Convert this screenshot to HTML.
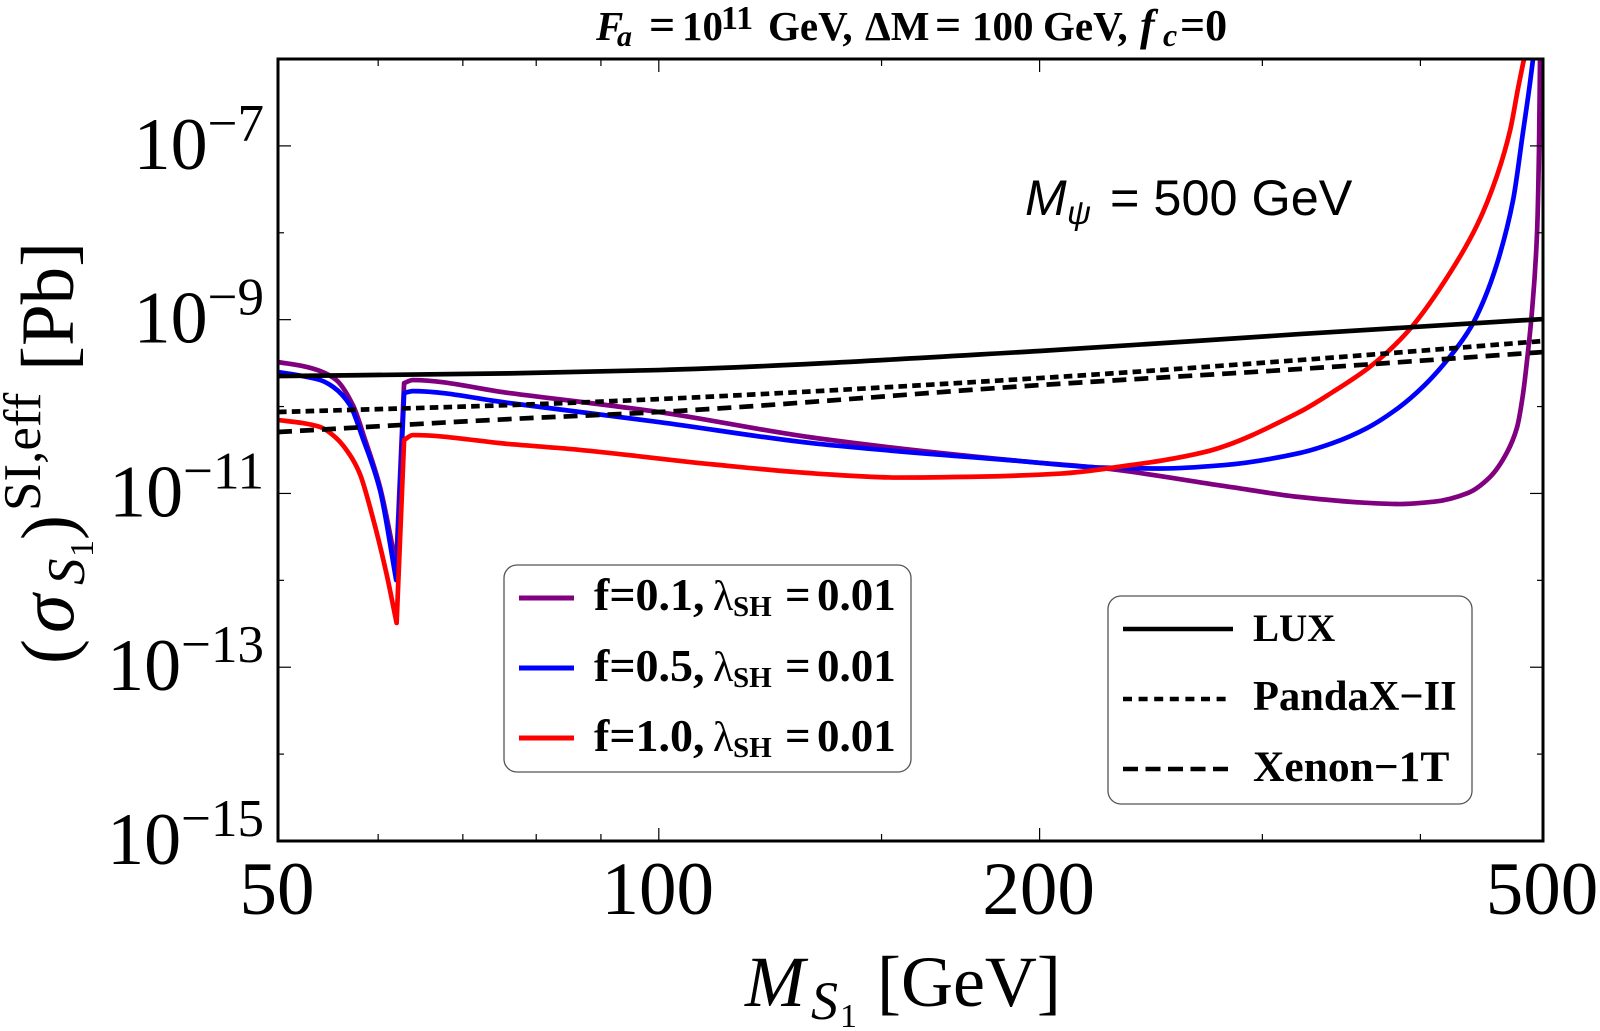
<!DOCTYPE html>
<html lang="en">
<head>
<meta charset="utf-8">
<title>Spin-independent cross section vs mass</title>
<style>
html,body{margin:0;padding:0;background:#fff;width:1600px;height:1031px;overflow:hidden}
svg{display:block}
text{font-family:"Liberation Serif",serif;fill:#000}
.b{font-weight:bold}
.i{font-style:italic}
.sans{font-family:"Liberation Sans",sans-serif}
</style>
</head>
<body>
<svg id="chart" xmlns="http://www.w3.org/2000/svg" width="1600" height="1031" viewBox="0 0 1600 1031">
  <rect width="1600" height="1031" fill="#fff"/>
  <defs><clipPath id="plot-clip"><rect x="278" y="59" width="1265" height="782"/></clipPath></defs>

  <g class="b">
    <text x="596" y="40" font-size="41" class="b i">F</text>
    <text x="617" y="46" font-size="30" class="b i">a</text>
    <text x="649" y="40" font-size="46" class="b">=</text>
    <text x="682" y="40" font-size="41" class="b">10</text>
    <text x="721" y="29" font-size="34" class="b">11</text>
    <text x="768" y="40" font-size="41" class="b">GeV,</text>
    <text x="865" y="40" font-size="41" class="b">ΔM</text>
    <text x="935" y="40" font-size="46" class="b">=</text>
    <text x="972" y="40" font-size="41" class="b">100</text>
    <text x="1043" y="40" font-size="41" class="b">GeV,</text>
    <text x="1140" y="40" font-size="44" class="b i">f</text>
    <text x="1163" y="46" font-size="32" class="b i">c</text>
    <text x="1180" y="40" font-size="44" class="b">=0</text>
  </g>

  <g id="series-layer" clip-path="url(#plot-clip)"></g>
  <g id="tick-layer"></g>
  <rect x="278" y="59" width="1265" height="782" fill="none" stroke="#000" stroke-width="3"/>
  <g id="label-layer"></g>

  <g>
    <text class="sans i" x="1025" y="215" font-size="50">M</text>
    <text class="sans i" x="1067" y="224" font-size="33">ψ</text>
    <text class="sans" x="1110" y="215" font-size="50.4">= 500 GeV</text>
  </g>

  <g>
    <text class="i" x="745" y="1006" font-size="72">M</text>
    <text class="i" x="811" y="1019" font-size="54">S</text>
    <text x="840" y="1027" font-size="34">1</text>
    <text x="877" y="1006" font-size="72">[GeV]</text>
  </g>

  <g transform="translate(0,663) rotate(-90)">
    <text x="-1" y="73" font-size="75">(</text>
    <text class="i" x="30" y="73" font-size="78">σ</text>
    <text class="i" x="78" y="84" font-size="53">S</text>
    <text x="106" y="93" font-size="34">1</text>
    <text x="123" y="73" font-size="75">)</text>
    <text x="152" y="40" font-size="53">SI,eff</text>
    <text x="292" y="73" font-size="75">[Pb]</text>
  </g>

  <g>
    <rect x="504" y="565" width="407" height="207" rx="13" ry="13" fill="#fff" stroke="#555" stroke-width="1.3"/>
    <g>
      <line x1="519" x2="574" y1="598" y2="598" stroke="#800080" stroke-width="5"/>
      <text class="b" x="594" y="610" font-size="46">f=0.1,</text>
      <text x="713" y="610" font-size="42">λ</text>
      <text class="b" x="733" y="616" font-size="29">SH</text>
      <text class="b" x="785" y="610" font-size="45">=</text>
      <text class="b" x="817" y="610" font-size="45">0.01</text>
    </g>
    <g>
      <line x1="519" x2="574" y1="668" y2="668" stroke="#0000ff" stroke-width="5"/>
      <text class="b" x="594" y="681" font-size="46">f=0.5,</text>
      <text x="713" y="681" font-size="42">λ</text>
      <text class="b" x="733" y="687" font-size="29">SH</text>
      <text class="b" x="785" y="681" font-size="45">=</text>
      <text class="b" x="817" y="681" font-size="45">0.01</text>
    </g>
    <g>
      <line x1="519" x2="574" y1="738" y2="738" stroke="#ff0000" stroke-width="5"/>
      <text class="b" x="594" y="751" font-size="46">f=1.0,</text>
      <text x="713" y="751" font-size="42">λ</text>
      <text class="b" x="733" y="757" font-size="29">SH</text>
      <text class="b" x="785" y="751" font-size="45">=</text>
      <text class="b" x="817" y="751" font-size="45">0.01</text>
    </g>
  </g>

  <g>
    <rect x="1108" y="596" width="364" height="208" rx="13" ry="13" fill="#fff" stroke="#555" stroke-width="1.3"/>
    <g>
      <line x1="1123" x2="1233" y1="629" y2="629" stroke="#000" stroke-width="4.6"/>
      <text class="b" x="1253" y="641" font-size="39">LUX</text>
    </g>
    <g>
      <line x1="1123" x2="1229" y1="699" y2="699" stroke="#000" stroke-width="4.6" stroke-dasharray="9 6.6"/>
      <text class="b" x="1253" y="710" font-size="42.5">PandaX−II</text>
    </g>
    <g>
      <line x1="1123" x2="1229" y1="769" y2="769" stroke="#000" stroke-width="4.6" stroke-dasharray="15 7.5"/>
      <text class="b" x="1253" y="781" font-size="43.5">Xenon−1T</text>
    </g>
  </g>
</svg>

<script>
// Data: masses in GeV, log10(sigma / Pb).
const purpleMass = [50,52.3,54,55.6,57.3,58.6,60.2,62,62.9,63.9,76.2,100,133,193,224,280,321,360,385,410,436,454,468,477,482,486.5,490,494.6,496.4,497.3];
const purpleLogSigma = [-9.488,-9.534,-9.592,-9.695,-9.983,-10.385,-10.926,-11.824,-9.73,-9.695,-9.845,-10.063,-10.362,-10.627,-10.708,-10.915,-11.041,-11.105,-11.122,-11.095,-10.995,-10.811,-10.535,-10.236,-9.868,-9.373,-8.913,-8.003,-7.014,-6];

const blueMass = [50,52.3,54,55.3,57,58.3,60.2,62,62.9,63.9,76.2,100,133,193,224,250,280,321,341,363,385,402,420,438,449,460,473.5,482,488.3,491];
const blueLogSigma = [-9.603,-9.649,-9.695,-9.776,-9.983,-10.351,-10.961,-11.997,-9.845,-9.822,-9.96,-10.178,-10.426,-10.627,-10.702,-10.713,-10.673,-10.535,-10.42,-10.247,-10.006,-9.77,-9.465,-9.097,-8.774,-8.349,-7.624,-6.853,-6.277,-6];

const redMass = [50,52.3,54,55.6,57,58,59.4,60.9,62.05,62.9,63.9,76.2,85.2,110.6,133,154.5,179.4,208,232,270,321,341,363,376,393,422,443.5,460,471,478,483];
const redLogSigma = [-10.155,-10.19,-10.236,-10.363,-10.558,-10.765,-11.272,-11.916,-12.491,-10.385,-10.328,-10.432,-10.489,-10.667,-10.771,-10.817,-10.806,-10.771,-10.69,-10.524,-10.063,-9.833,-9.568,-9.384,-9.097,-8.464,-7.911,-7.336,-6.818,-6.323,-6];

const luxMass = [50,76.2,100,200,321,500];
const luxLogSigma = [-9.649,-9.618,-9.58,-9.361,-9.166,-8.993];

const pandaMass = [50,76.2,100,200,321,500];
const pandaLogSigma = [-10.063,-9.983,-9.914,-9.672,-9.465,-9.246];

const xenonMass = [50,76.2,100,200,321,500];
const xenonLogSigma = [-10.293,-10.144,-10.063,-9.753,-9.568,-9.373];

const xTickMajor = [50,100,200,500];
const xTickMajorLabels = ["50","100","200","500"];
const xTickMinor = [60,70,80,90,150,300,400];
const yTickMajor = [-15,-13,-11,-9,-7];
const yTickMajorLabels = ["−15","−13","−11","−9","−7"];
const yTickMinor = [-14,-12,-10,-8,-6];

const svgNS = "http://www.w3.org/2000/svg";
const plotLeft = 278, plotRight = 1543, plotTop = 59, plotBottom = 841;
const xMin = 50, xMax = 500, yMin = -15, yMax = -6;

function xScale(m){
  return plotLeft + (Math.log10(m) - Math.log10(xMin)) / (Math.log10(xMax) - Math.log10(xMin)) * (plotRight - plotLeft);
}
function yScale(l){
  return plotBottom - (l - yMin) / (yMax - yMin) * (plotBottom - plotTop);
}

const seriesLayer = document.getElementById("series-layer");
const tickLayer = document.getElementById("tick-layer");
const labelLayer = document.getElementById("label-layer");

// Monotone cubic path through a run of points (no overshoot between readings).
function smoothRun(pts){
  const n = pts.length;
  if (n < 2) return "";
  const dx = [], s = [], t = [];
  for (let i = 0; i < n - 1; i++){
    dx[i] = pts[i + 1][0] - pts[i][0];
    s[i] = (pts[i + 1][1] - pts[i][1]) / dx[i];
  }
  t[0] = s[0];
  t[n - 1] = s[n - 2];
  for (let i = 1; i < n - 1; i++){
    if (s[i - 1] * s[i] <= 0) {
      t[i] = 0;
    } else {
      const w1 = 2 * dx[i] + dx[i - 1], w2 = dx[i] + 2 * dx[i - 1];
      t[i] = (w1 + w2) / (w1 / s[i - 1] + w2 / s[i]);
    }
  }
  let d = "";
  for (let i = 0; i < n - 1; i++){
    const h = dx[i] / 3;
    d += " C" + (pts[i][0] + h).toFixed(2) + "," + (pts[i][1] + t[i] * h).toFixed(2) +
         " " + (pts[i + 1][0] - h).toFixed(2) + "," + (pts[i + 1][1] - t[i + 1] * h).toFixed(2) +
         " " + pts[i + 1][0].toFixed(2) + "," + pts[i + 1][1].toFixed(2);
  }
  return d;
}

function drawSeries(name, masses, values, color, dash){
  const pts = masses.map((m, i) => [xScale(m), yScale(values[i])]);
  // The resonance dip is a true cusp: break the smoothing at its lowest reading below 70 GeV.
  let tip = -1, low = Infinity;
  masses.forEach((m, i) => {
    if (m < 70 && values[i] < low && values[i] < -11) { low = values[i]; tip = i; }
  });
  let d = "M" + pts[0][0].toFixed(2) + "," + pts[0][1].toFixed(2);
  if (tip > 0) {
    d += smoothRun(pts.slice(0, tip + 1));
    d += " L" + pts[tip + 1][0].toFixed(2) + "," + pts[tip + 1][1].toFixed(2);
    d += smoothRun(pts.slice(tip + 1));
  } else {
    d += smoothRun(pts);
  }
  const p = document.createElementNS(svgNS, "path");
  
  
  p.setAttribute("d", d);
  p.setAttribute("fill", "none");
  p.setAttribute("stroke", color);
  p.setAttribute("stroke-width", "4.7");
  p.setAttribute("stroke-linejoin", "round");
  if (dash) p.setAttribute("stroke-dasharray", dash);
  seriesLayer.appendChild(p);
}
drawSeries("curve-f-0-1", purpleMass, purpleLogSigma, "#800080");
drawSeries("curve-f-0-5", blueMass, blueLogSigma, "#0000ff");
drawSeries("curve-f-1-0", redMass, redLogSigma, "#ff0000");
drawSeries("limit-xenon-1t", xenonMass, xenonLogSigma, "#000", "14 8");
drawSeries("limit-pandax-ii", pandaMass, pandaLogSigma, "#000", "8.6 5.2");
drawSeries("limit-lux", luxMass, luxLogSigma, "#000");

function tickLine(name, x1, y1, x2, y2){
  const t = document.createElementNS(svgNS, "line");
  
  
  t.setAttribute("x1", x1);
  t.setAttribute("y1", y1);
  t.setAttribute("x2", x2);
  t.setAttribute("y2", y2);
  t.setAttribute("stroke", "#000");
  t.setAttribute("stroke-width", "1.2");
  tickLayer.appendChild(t);
}
xTickMajor.forEach(m => {
  const x = xScale(m);
  tickLine("x-tick-major-bottom", x, plotBottom, x, plotBottom - 13);
  tickLine("x-tick-major-top", x, plotTop, x, plotTop + 13);
});
xTickMinor.forEach(m => {
  const x = xScale(m);
  tickLine("x-tick-minor-bottom", x, plotBottom, x, plotBottom - 7);
  tickLine("x-tick-minor-top", x, plotTop, x, plotTop + 7);
});
yTickMajor.forEach(l => {
  const y = yScale(l);
  tickLine("y-tick-major-left", plotLeft, y, plotLeft + 13, y);
  tickLine("y-tick-major-right", plotRight, y, plotRight - 13, y);
});
yTickMinor.forEach(l => {
  const y = yScale(l);
  tickLine("y-tick-minor-left", plotLeft, y, plotLeft + 6, y);
  tickLine("y-tick-minor-right", plotRight, y, plotRight - 6, y);
});

xTickMajor.forEach((m, i) => {
  const t = document.createElementNS(svgNS, "text");
  
  
  t.setAttribute("x", xScale(m) - 1);
  t.setAttribute("y", 914);
  t.setAttribute("font-size", "75");
  t.setAttribute("text-anchor", "middle");
  t.textContent = xTickMajorLabels[i];
  labelLayer.appendChild(t);
});

yTickMajor.forEach((l, i) => {
  const y = yScale(l);
  const t = document.createElementNS(svgNS, "text");
  
  
  t.setAttribute("x", 264);
  t.setAttribute("y", y + 23);
  t.setAttribute("font-size", "74");
  t.setAttribute("text-anchor", "end");
  const base = document.createElementNS(svgNS, "tspan");
  base.textContent = "10";
  const exp = document.createElementNS(svgNS, "tspan");
  exp.setAttribute("font-size", "53");
  exp.setAttribute("dy", "-28");
  exp.textContent = yTickMajorLabels[i];
  t.appendChild(base);
  t.appendChild(exp);
  labelLayer.appendChild(t);
});
</script>
</body>
</html>
